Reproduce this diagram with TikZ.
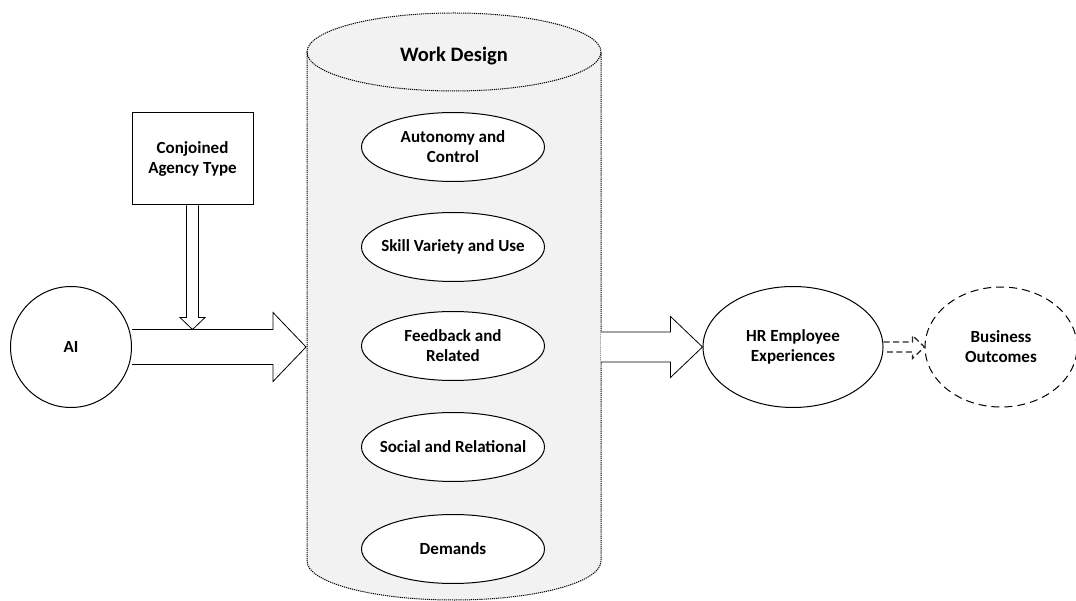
\documentclass[tikz,border=0pt]{standalone}
\usepackage{fontspec}
\setmainfont{Carlito}
\usetikzlibrary{shapes.geometric,calc}
\definecolor{cylfill}{HTML}{F2F2F2}
\definecolor{dashgray}{HTML}{262626}
\begin{document}
\begin{tikzpicture}[x=1pt,y=-1pt,
  lbl/.style={font=\bfseries\fontsize{17}{20}\selectfont, align=center},
  factor/.style={ellipse, draw, line width=1pt, fill=white,
    minimum width=183pt, minimum height=69pt, inner xsep=-12pt, inner ysep=0pt, lbl},
  blockarrow/.style={draw, line width=0.8pt, fill=white, line join=miter},
  cylline/.style={draw=black, line width=1pt, dash pattern=on 1.2pt off 0.9pt}
]
\useasboundingbox (0,0) rectangle (1076,601);

% Work design cylinder
\path[fill=cylfill] (307,52) -- (307,561)
  arc[start angle=180, end angle=0, x radius=147, y radius=39]
  -- (601,52)
  arc[start angle=0, end angle=-180, x radius=147, y radius=39] -- cycle;
\draw[cylline] (307,52) -- (307,561)
  arc[start angle=180, end angle=0, x radius=147, y radius=39]
  -- (601,52);
\draw[cylline] (454,52) ellipse[x radius=147, y radius=39];
\node[font=\bfseries\fontsize{20.5}{24}\selectfont] (wdtitle) at (454,56) {Work Design};
\coordinate (cylW) at (306,347);
\coordinate (cylE) at (601,347);

% Work design dimensions
\node[factor] (auto) at (453,147) {Autonomy and\\Control};
\node[factor] (skill) at (453,247) {Skill Variety and Use};
\node[factor] (feed) at (453,346) {Feedback and\\Related};
\node[factor] (social) at (453,447) {Social and Relational};
\node[factor] (dem) at (453,549) {Demands};

% Antecedent, moderator and outcomes
\node[circle, draw, line width=1pt, minimum size=121pt, inner sep=0pt, lbl] (ai) at (71,347) {AI};
\node[rectangle, draw, line width=1pt, minimum width=121pt, minimum height=92pt, inner sep=0pt, lbl] (cat) at (192.5,159) {Conjoined\\Agency Type};
\node[ellipse, draw, line width=1pt, minimum width=180pt, minimum height=121pt, inner sep=0pt, lbl] (hr) at (793,347) {HR Employee\\Experiences};
\node[ellipse, draw, line width=1pt, dash pattern=on 8pt off 5pt, minimum width=152pt, minimum height=120pt, inner sep=0pt, lbl] (bo) at (1001,347) {Business\\Outcomes};

% AI -> work design
\draw[blockarrow] ($(ai.east)+(0,-17.5)$) -- ($(cylW)+(-33,-17.5)$)
  -- ($(cylW)+(-33,-34.5)$) -- (cylW) -- ($(cylW)+(-33,34.5)$)
  -- ($(cylW)+(-33,17.5)$) -- ($(ai.east)+(0,17.5)$);

% Conjoined agency type -> AI/work design link
\coordinate (join) at ($(cat.south |- ai.east)+(0,-17.5)$);
\draw[blockarrow] ($(cat.south)+(-6,0)$) -- ($(join)+(-6,-12)$)
  -- ($(join)+(-12.5,-12)$) -- (join) -- ($(join)+(12.5,-12)$)
  -- ($(join)+(6,-12)$) -- ($(cat.south)+(6,0)$);

% Work design -> HR employee experiences
\draw[blockarrow] ($(cylE)+(0,-15)$) -- ($(hr.west)+(-32,-15)$)
  -- ($(hr.west)+(-32,-30.5)$) -- (hr.west) -- ($(hr.west)+(-32,30.5)$)
  -- ($(hr.west)+(-32,15)$) -- ($(cylE)+(0,15)$);

% HR employee experiences -> business outcomes
\draw[draw=dashgray, line width=1.3pt, dash pattern=on 6pt off 3.5pt, line join=miter]
  ($(hr.east)+(0,-5)$) -- ($(bo.west)+(-12,-5)$)
  -- ($(bo.west)+(-12,-11.5)$) -- (bo.west) -- ($(bo.west)+(-12,11.5)$)
  -- ($(bo.west)+(-12,5)$) -- ($(hr.east)+(0,5)$);
\end{tikzpicture}
\end{document}
